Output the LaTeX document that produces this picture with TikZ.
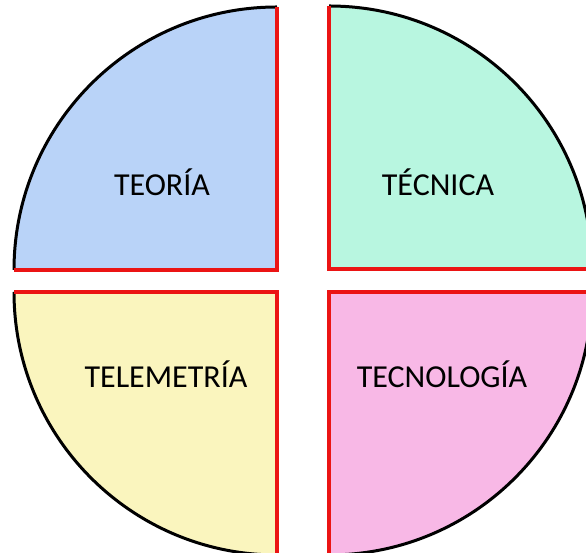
\documentclass[tikz,border=0pt]{standalone}
\usepackage{fontspec}
\setmainfont{Carlito}
\definecolor{teoriafill}{RGB}{185,211,248}
\definecolor{tecnicafill}{RGB}{184,246,224}
\definecolor{telemfill}{RGB}{250,245,190}
\definecolor{tecnofill}{RGB}{248,184,230}
\definecolor{edgered}{RGB}{235,20,20}

\begin{document}
\begin{tikzpicture}[x=1pt, y=1pt,
	rim/.style={line width=3pt, black},
	cut/.style={line width=4pt, edgered, line join=miter},
	word/.style={font=\fontsize{32}{38}\selectfont, anchor=base, inner sep=0pt}]
	\clip (0,0) rectangle (586,553);
	% quarters (corner, then arc)
	\fill[teoriafill] (277,283) -- (14,283) arc[start angle=180, end angle=90, radius=263] -- cycle;
	\fill[tecnicafill] (329,284) -- (329,547) arc[start angle=90, end angle=0, radius=263] -- cycle;
	\fill[telemfill] (277,261) -- (277,-2) arc[start angle=270, end angle=180, radius=263] -- cycle;
	\fill[tecnofill] (329,261) -- (592,261) arc[start angle=0, end angle=-90, radius=263] -- cycle;
	\draw[rim] (14,283) arc[start angle=180, end angle=90, radius=263];
	\draw[rim] (329,547) arc[start angle=90, end angle=0, radius=263];
	\draw[rim] (277,-2) arc[start angle=270, end angle=180, radius=263];
	\draw[rim] (592,261) arc[start angle=0, end angle=-90, radius=263];
	\draw[cut] (14,283) -- (277,283) -- (277,546);
	\draw[cut] (329,547) -- (329,284) -- (592,284);
	\draw[cut] (14,261) -- (277,261) -- (277,-2);
	\draw[cut] (592,261) -- (329,261) -- (329,-2);
	% labels
	\node[word] (teoria) at (162,357) {TEORÍA};
	\node[word] (tecnica) at (438,357) {TÉCNICA};
	\node[word] (telemetria) at (166,165) {TELEMETRÍA};
	\node[word] (tecnologia) at (442,165) {TECNOLOGÍA};
\end{tikzpicture}
\end{document}
